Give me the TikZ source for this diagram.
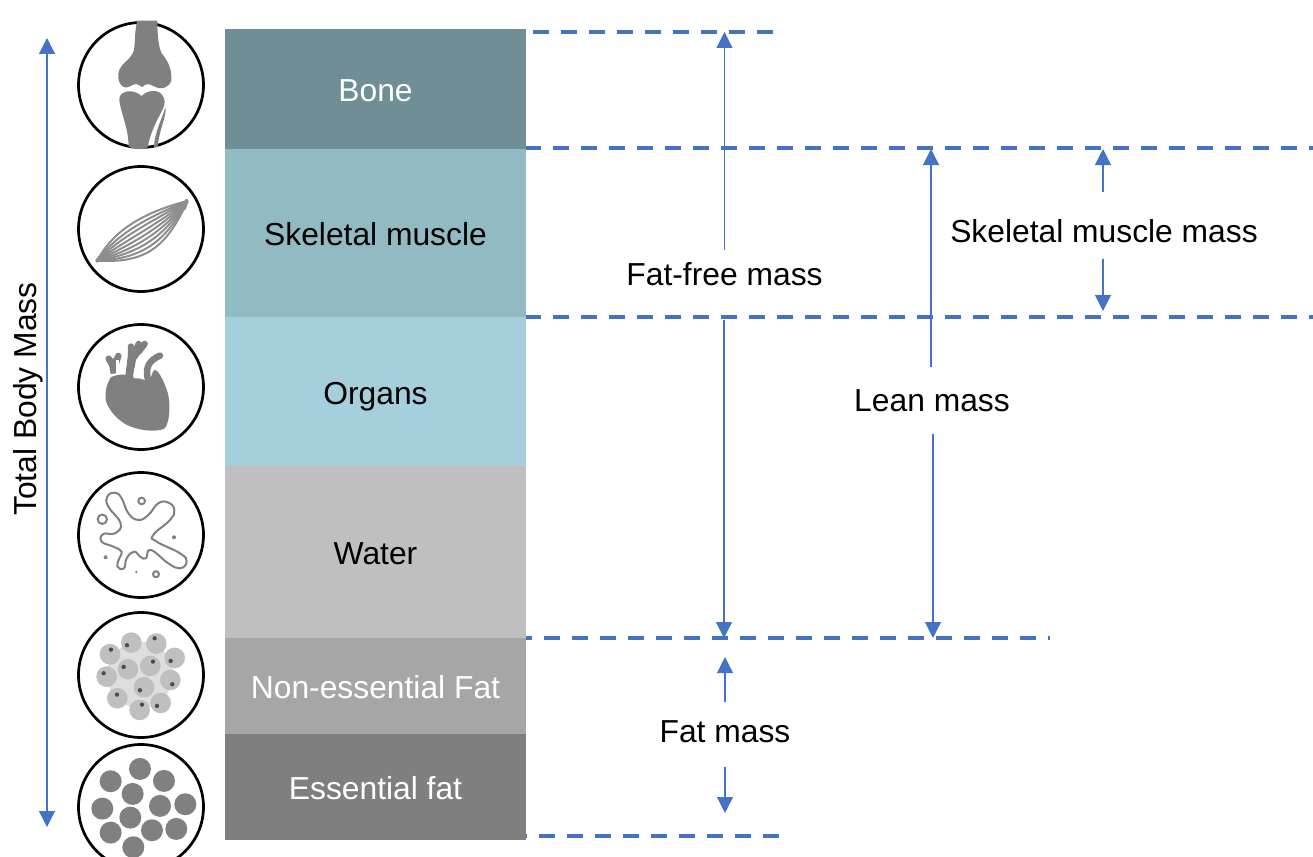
\documentclass[tikz,border=0pt]{standalone}
\usepackage{fontspec}
\setmainfont{Liberation Sans}
\usetikzlibrary{
  arrows.meta,
  positioning
}
\definecolor{bmBone}{HTML}{6F8E96}
\definecolor{bmMuscle}{HTML}{92BAC2}
\definecolor{bmOrgan}{HTML}{A5CFDC}
\definecolor{bmWater}{HTML}{BFBFBF}
\definecolor{bmFat}{HTML}{A6A6A6}
\definecolor{bmEssential}{HTML}{7F7F7F}
\definecolor{bmLine}{HTML}{4472C4}
\definecolor{bmIcon}{HTML}{808080}
\tikzset{
  band/.style={
    minimum width=301pt, inner sep=0pt, outer sep=0pt,
    font=\fontsize{31.8}{38}\selectfont, text height=25pt, text depth=0pt
  },
  iconring/.style={draw=black, line width=2.7pt, circle, minimum size=125pt, inner sep=0pt},
  iconscope/.style={x=0.3333pt, y=-0.3333pt},
  levelline/.style={draw=bmLine, line width=3.6pt, dash pattern=on 16pt off 12pt},
  dimarrow/.style={-{Triangle[length=16pt, width=16pt]}, draw=bmLine, fill=bmLine, line width=1.2pt},
  dimlabel/.style={font=\fontsize{31.8}{38}\selectfont, inner sep=0pt}
}
\begin{document}
\begin{tikzpicture}[x=1pt, y=-1pt]
  \useasboundingbox (0,0) rectangle (1313,856);
  \coordinate (lvlboneA) at (532.7,32);
  \coordinate (lvlboneB) at (773,32);
  \coordinate (lvlmuscleA) at (526,148);
  \coordinate (lvlmuscleB) at (1313,148);
  \coordinate (lvlorganA) at (526,317);
  \coordinate (lvlorganB) at (1313,317);
  \coordinate (lvlfatA) at (526,638);
  \coordinate (lvlfatB) at (1050,638);
  \coordinate (lvlbaseA) at (526,836);
  \coordinate (lvlbaseB) at (779,836);
  \draw[levelline] (lvlboneA) -- (lvlboneB);
  \draw[levelline, dash phase=1.3pt] (lvlmuscleA) -- (lvlmuscleB);
  \draw[levelline, dash phase=1.3pt] (lvlorganA) -- (lvlorganB);
  \draw[levelline, dash phase=9.7pt] (lvlfatA) -- (lvlfatB);
  \draw[levelline, dash phase=15pt] (lvlbaseA) -- (lvlbaseB);

  \node[band, fill=bmBone, text=white, minimum height=120pt, anchor=north west] (bone) at (225,29) {Bone};
  \node[band, fill=bmMuscle, minimum height=168pt, below=0pt of bone] (muscle) {Skeletal muscle};
  \node[band, fill=bmOrgan, minimum height=149pt, below=0pt of muscle] (organs) {Organs};
  \node[band, fill=bmWater, minimum height=172pt, below=0pt of organs] (water) {Water};
  \node[band, fill=bmFat, text=white, minimum height=96pt, below=0pt of water] (nonfat) {Non-essential Fat};
  \node[band, fill=bmEssential, text=white, minimum height=106pt, below=0pt of nonfat] (essfat) {Essential fat};

  \node[iconring] (ringbone) at (141,85) {};
  \node[iconring] (ringmuscle) at (141,229) {};
  \node[iconring] (ringheart) at (141,387) {};
  \node[iconring] (ringwater) at (141,535) {};
  \node[iconring] (ringfat) at (141,675) {};
  \node[iconring] (ringess) at (141,807) {};

  \begin{scope}[iconscope, shift={(180,0)}]
    \fill[bmIcon] (232,62) -- (292,62) .. controls (292,110) and (296,140) .. (305,160)
      .. controls (322,180) and (336,205) .. (334,240) .. controls (330,262) and (305,272) .. (280,258)
      .. controls (265,250) and (258,250) .. (246,262) .. controls (234,250) and (225,250) .. (212,258)
      .. controls (190,272) and (172,250) .. (175,222) .. controls (178,190) and (215,180) .. (222,150)
      .. controls (226,120) and (224,90) .. cycle;
    \fill[bmIcon] (178,300) .. controls (175,275) and (215,262) .. (245,288)
      .. controls (270,262) and (312,270) .. (314,305) .. controls (316,330) and (280,360) .. (262,445)
      .. controls (240,450) and (220,448) .. (206,440) .. controls (205,380) and (182,340) .. cycle;
    \fill[bmIcon] (316,322) .. controls (322,345) and (298,385) .. (293,442) -- (282,442)
      .. controls (284,395) and (305,360) .. cycle;
  \end{scope}

  \begin{scope}[iconscope, shift={(180,0)}]
    \foreach \ax/\ay/\bx/\by in {165/680/271/632, 176/694/277/647, 186/707/283/661, 197/721/289/676,
      208/735/295/690, 218/749/300/705, 229/762/306/719, 240/776/312/734, 250/790/318/749}
      \draw[bmIcon!90, line width=2pt] (112,782) .. controls (\ax,\ay) and (\bx,\by) .. (382,603);
    \draw[bmIcon!90, line width=4pt, line cap=round] (112,782) -- (122,770);
    \draw[bmIcon!90, line width=4pt, line cap=round] (380,603) -- (372,625);
  \end{scope}

  \begin{scope}[iconscope, shift={(180,930)}]
    \fill[bmIcon] plot[smooth cycle, tension=0.7] coordinates {(165,197) (200,195) (255,210) (270,205) (287,180)
      (315,225) (328,280) (322,340) (300,360) (240,358) (185,335) (145,290) (137,250) (148,210)};
    \fill[bmIcon] (195,205) -- (205,125) -- (255,112) -- (228,150) -- (218,205) -- cycle;
    \fill[bmIcon] (152,192) -- (145,150) -- (176,140) -- (170,190) -- cycle;
    \foreach \ex/\ey/\fx/\fy in {214/140/213/110, 226/130/236/102, 236/125/254/102, 160/170/146/146, 166/165/175/138}
      \draw[bmIcon, line width=6.5pt, line cap=round] (\ex,\ey) -- (\fx,\fy);
    \draw[white, line width=5pt] (228,205) .. controls (228,165) and (245,145) .. (280,122);
    \draw[bmIcon, line width=6.5pt, line cap=round] (263,205) .. controls (255,170) and (270,150) .. (300,137);
    \draw[white, line width=3pt] (172,196) -- (172,150);
  \end{scope}

  \begin{scope}[iconscope, shift={(180,930)}]
    \draw[bmIcon, line width=2pt] plot[smooth cycle, tension=0.8] coordinates {(165,548) (185,565) (205,610)
      (235,630) (265,615) (295,580) (325,578) (343,600) (330,630) (280,675) (290,695) (360,730) (380,755)
      (360,775) (325,760) (272,720) (258,745) (240,740) (222,725) (200,745) (192,775) (172,770) (178,745)
      (185,725) (160,710) (125,695) (130,672) (165,670) (182,640) (145,590) (142,560)};
    \foreach \px/\py/\pr in {245/573/10, 127/628/14, 288/793/9}
      \draw[bmIcon, line width=2pt] (\px,\py) circle (\pr);
    \foreach \px/\py/\pr in {342/682/6, 137/742/6, 229/786/4}
      \fill[bmIcon] (\px,\py) circle (\pr);
  \end{scope}

  \begin{scope}[iconscope, shift={(180,1800)}]
    \fill[black!13] (240,225) circle (100);
    \foreach \px/\py in {150/163, 214/128, 289/131, 344/174, 331/240, 271/198, 204/208, 140/230, 172/295, 252/262, 302/309, 239/330}
      \fill[black!25] (\px,\py) circle (31);
    \foreach \px/\py in {153/149, 201/136, 284/115, 332/183, 337/253, 279/185, 191/201, 131/220, 171/284, 240/271, 291/318, 246/314}
      \fill[black!70] (\px,\py) circle (6.5);
  \end{scope}

  \begin{scope}[iconscope, shift={(180,1800)}]
    \foreach \px/\py in {240/507, 152/544, 312/543, 218/582, 300/618, 376/613, 127/626, 211/653, 152/698, 276/691, 349/687, 220/742}
      \fill[bmIcon] (\px,\py) circle (33);
  \end{scope}

  \node[dimlabel, text height=35pt, text depth=11pt] (fatfree) at (724.5,273) {Fat-free mass};
  \node[dimlabel, text height=44pt, text depth=22pt] (lean) at (932,400.5) {Lean mass};
  \node[dimlabel, text height=50pt, text depth=17pt] (skelmass) at (1104,225.5) {Skeletal muscle mass};
  \node[dimlabel, text height=40pt, text depth=24pt] (fatmass) at (725,734.5) {Fat mass};
  \node[dimlabel, rotate=90] (total) at (28,399) {Total Body Mass};

  \coordinate (fattop) at (725,657);
  \coordinate (fatbot) at (725,813);
  \coordinate (skeltop) at (1103,149);
  \coordinate (skelbot) at (1103,311);
  \coordinate (freebot) at (724,320);
  \coordinate (totaltop) at (47,38);
  \coordinate (totalbot) at (47,827);

  \draw[dimarrow] (fatfree.north) -- (fatfree.north |- lvlboneA);
  \draw[dimarrow] (freebot) -- (freebot |- water.south);
  \draw[dimarrow] ([xshift=-1pt]lean.north) -- ([xshift=-1pt]lean.north |- bone.south);
  \draw[dimarrow] ([xshift=1pt]lean.south) -- ([xshift=1pt]lean.south |- water.south);
  \draw[dimarrow] ([xshift=-1pt]skelmass.north) -- (skeltop);
  \draw[dimarrow] ([xshift=-1pt]skelmass.south) -- (skelbot);
  \draw[dimarrow] (fatmass.north) -- (fattop);
  \draw[dimarrow] (fatmass.south) -- (fatbot);
  \draw[dimarrow, {Triangle[length=16pt, width=16pt]}-{Triangle[length=16pt, width=16pt]}] (totaltop) -- (totalbot);
\end{tikzpicture}
\end{document}
